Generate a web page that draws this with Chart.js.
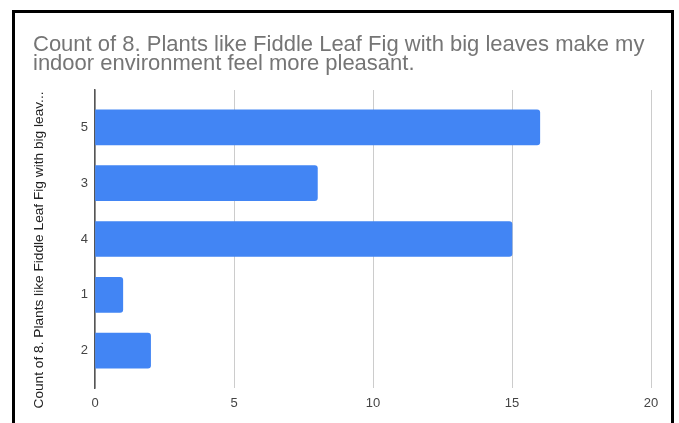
<!DOCTYPE html>
<html>
<head>
<meta charset="utf-8">
<script src="https://cdn.jsdelivr.net/npm/chart.js@4"></script>
<style>
  body { margin: 0; background: #fff; }
  #wrap { position: relative; width: 679px; height: 423px; overflow: hidden; }
  #frame {
    position: absolute; left: 12px; top: 10px; width: 656px; height: 440px;
    border: 3px solid #000; pointer-events: none;
  }
</style>
</head>
<body>
<div id="wrap">
  <canvas id="chart" width="679" height="423"></canvas>
  <div id="frame"></div>
</div>
<script>
const answers = ['5', '3', '4', '1', '2'];
const counts = [16, 8, 15, 1, 2];
const countTicks = [0, 5, 10, 15, 20];

const titleLines = [
    'Count of 8. Plants like Fiddle Leaf Fig with big leaves make my',
    'indoor environment feel more pleasant.'
];
const axisTitle = 'Count of 8. Plants like Fiddle Leaf Fig with big leav...';

const FONT = '"Liberation Sans", Arial, sans-serif';

// rotated label along the category axis, sits a bit lower than centre
const sideTitle = {
    id: 'sideTitle',
    afterDraw(chart) {
        const {ctx, chartArea} = chart;
        ctx.save();
        ctx.translate(chartArea.left - 56, (chartArea.top + chartArea.bottom) / 2 + 11);
        ctx.rotate(-Math.PI / 2);
        ctx.font = '13.7px ' + FONT;
        ctx.fillStyle = '#222';
        ctx.textAlign = 'center';
        ctx.textBaseline = 'middle';
        ctx.fillText(axisTitle, 0, 0);
        ctx.restore();
    }
};

const ctx = document.getElementById('chart').getContext('2d');
new Chart(ctx, {
    type: 'bar',
    data: {
        labels: answers,
        datasets: [{
            data: counts,
            backgroundColor: '#4285f4',
            borderRadius: 3,
            borderSkipped: 'start',
            barThickness: 35
        }]
    },
    options: {
        indexAxis: 'y',
        responsive: false,
        animation: false,
        layout: { padding: { left: 33, right: 28, top: 30, bottom: 0 } },
        plugins: {
            legend: { display: false },
            tooltip: { enabled: false },
            title: {
                display: true,
                text: titleLines,
                align: 'start',
                color: '#757575',
                font: { family: FONT, size: 22, weight: 'normal', lineHeight: 0.9 },
                padding: { top: 4.6, bottom: 15.8 }
            }
        },
        scales: {
            x: {
                min: 0,
                max: 20,
                afterBuildTicks: (scale) => {
                    scale.ticks = countTicks.map(v => ({ value: v }));
                },
                afterFit: (scale) => { scale.height = 35; },
                grid: { color: '#cccccc', lineWidth: 1, drawTicks: false },
                border: { display: false },
                ticks: { color: '#444', padding: 8, font: { family: FONT, size: 13 } }
            },
            y: {
                // a little more room above the first and below the last bar
                afterBuildTicks: (scale) => {
                    scale._startValue = scale.min - 0.67;
                    scale._valueRange = scale._valueRange + 0.34;
                },
                afterFit: (scale) => { scale.width = 62; },
                grid: { display: false, drawTicks: false },
                border: { display: true, color: '#555', width: 1.5 },
                ticks: { color: '#444', padding: 7, font: { family: FONT, size: 13 } }
            }
        }
    },
    plugins: [sideTitle]
});
</script>
</body>
</html>
